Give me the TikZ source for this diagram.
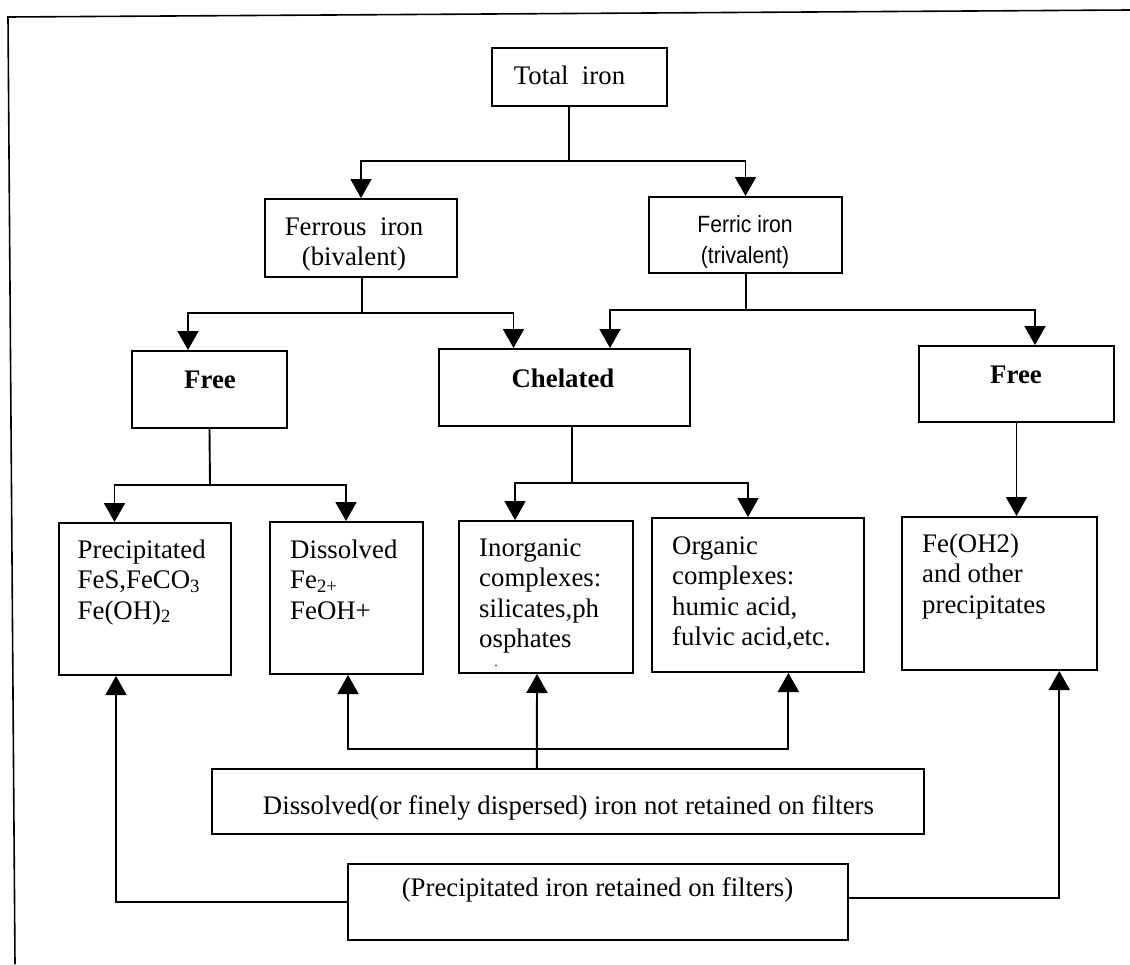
\documentclass[tikz,border=0pt]{standalone}
\usepackage{fontspec}
\setmainfont{Liberation Serif}
\newfontfamily\arialn[FakeStretch=0.9]{Liberation Sans}
\usetikzlibrary{arrows.meta}
\begin{document}
\begin{tikzpicture}[x=1pt,y=-1pt,
  box/.style={draw, line width=2pt, inner sep=0pt, rectangle},
  txt/.style={inner sep=0pt, font=\fontsize{26.8}{30.5}\selectfont},
  link/.style={line width=1.9pt},
  arr/.style={line width=1.9pt, -{Triangle[width=21pt,length=19pt]}},
  framel/.style={line width=1.6pt}
]
\useasboundingbox (0,0) rectangle (1130,964);
\fill[white] (0,0) rectangle (1130,964);

% frame
\coordinate (fa) at (1130,10);
\coordinate (fb) at (8,17);
\coordinate (fc) at (15,964);
\draw[framel] (fa) -- (fb) -- (fc);

% boxes
\node[box, minimum width=175pt, minimum height=58pt] (tot) at (579.5,77) {};
\node[box, minimum width=192pt, minimum height=78pt] (ferrous) at (361,238) {};
\node[box, minimum width=193pt, minimum height=76pt] (ferric) at (745.5,235) {};
\node[box, minimum width=155pt, minimum height=77pt] (freeL) at (209.5,389.5) {};
\node[box, minimum width=251pt, minimum height=77pt] (chel) at (564.5,387.5) {};
\node[box, minimum width=195pt, minimum height=76pt] (freeR) at (1016.5,384) {};
\node[box, minimum width=172pt, minimum height=152pt] (prec) at (145,599) {};
\node[box, minimum width=153pt, minimum height=152pt] (diss) at (346,598) {};
\node[box, minimum width=174pt, minimum height=152pt] (inorg) at (546,597) {};
\node[box, minimum width=212pt, minimum height=154pt] (org) at (758,595) {};
\node[box, minimum width=194.5pt, minimum height=153pt] (fe) at (999.25,593.5) {};
\node[box, minimum width=711.6pt, minimum height=65pt] (dissB) at (567.8,801.5) {};
\node[box, minimum width=500pt, minimum height=76pt] (precB) at (598,902) {};

% texts
\node[txt, anchor=base] (totT) at (569.5,84) {Total\ \ iron};
\node[txt, anchor=base] (ferrousT) at (354,235) {\begin{tabular}[t]{@{}c@{}}Ferrous\ \ iron\\(bivalent)\end{tabular}};
\node[inner sep=0pt, anchor=base, font=\arialn\fontsize{23.5}{31}\selectfont] (ferricT) at (745,232) {\begin{tabular}[t]{@{}c@{}}Ferric iron\\(trivalent)\end{tabular}};
\node[txt, anchor=base] (freeLT) at (210,388) {\textbf{Free}};
\node[txt, anchor=base] (chelT) at (563,387) {\textbf{Chelated}};
\node[txt, anchor=base] (freeRT) at (1016,383) {\textbf{Free}};
\node[txt, anchor=base west] (precT) at (77.5,558) {\begin{tabular}[t]{@{}l@{}}Precipitated\\FeS,FeCO\textsubscript{3}\\Fe(OH)\textsubscript{2}\end{tabular}};
\node[txt, anchor=base west] (dissT) at (290,558) {\begin{tabular}[t]{@{}l@{}}Dissolved\\Fe\textsubscript{2+}\\FeOH+\end{tabular}};
\node[txt, anchor=base west] (inorgT) at (479,556) {\begin{tabular}[t]{@{}l@{}}Inorganic\\complexes:\\silicates,ph\\osphates\end{tabular}};
\node[inner sep=0pt, anchor=base, font=\fontsize{14}{14}\selectfont] (dotT) at (496,666) {.};
\node[txt, anchor=base west] (orgT) at (672,554) {\begin{tabular}[t]{@{}l@{}}Organic\\complexes:\\humic acid,\\fulvic acid,etc.\end{tabular}};
\node[txt, anchor=base west] (feT) at (922,552) {\begin{tabular}[t]{@{}l@{}}Fe(OH2)\\and other\\precipitates\end{tabular}};
\node[txt, anchor=base] (dissBT) at (568.5,814) {Dissolved(or finely dispersed) iron not retained on filters};
\node[txt, anchor=base] (precBT) at (597.5,896) {(Precipitated iron retained on filters)};

% connectors
\coordinate (j1) at (569,161);
\draw[link] (tot.south -| j1) -- (j1);
\draw[arr] (j1) -| (ferrous.north);
\draw[arr] (j1) -| (ferric.north);

\coordinate (j2) at (362,313);
\draw[link] (ferrous.south -| j2) -- (j2);
\draw[arr] (j2) -| ([xshift=-21.5pt]freeL.north);
\draw[arr] (j2) -| ([xshift=-51pt]chel.north);

\coordinate (j3) at (746,310);
\draw[link] (ferric.south -| j3) -- (j3);
\draw[arr] (j3) -| ([xshift=45.5pt]chel.north);
\draw[arr] (j3) -| ([xshift=18.5pt]freeR.north);

\coordinate (j4) at (210,485);
\draw[link] (freeL.south) -- (j4);
\draw[arr] (j4) -| ([xshift=-30.5pt]prec.north);
\draw[arr] (j4) -| (diss.north);

\coordinate (j5) at (572,483);
\draw[link] (chel.south -| j5) -- (j5);
\draw[arr] (j5) -| ([xshift=-31pt]inorg.north);
\draw[arr] (j5) -| ([xshift=-10pt]org.north);

\draw[arr] (freeR.south) -- (fe.north -| freeR.south);

\draw[arr] ([xshift=-31pt]dissB.north) -- ([xshift=-9pt]inorg.south);
\coordinate (j6) at (537,749);
\draw[arr] (j6) -| ([xshift=2pt]diss.south);
\draw[arr] (j6) -| ([xshift=30.4pt]org.south);

\draw[arr] (precB.west) -| ([xshift=-29pt]prec.south);
\draw[arr] ([yshift=4pt]precB.east) -| ([xshift=60pt]fe.south);
\end{tikzpicture}
\end{document}
